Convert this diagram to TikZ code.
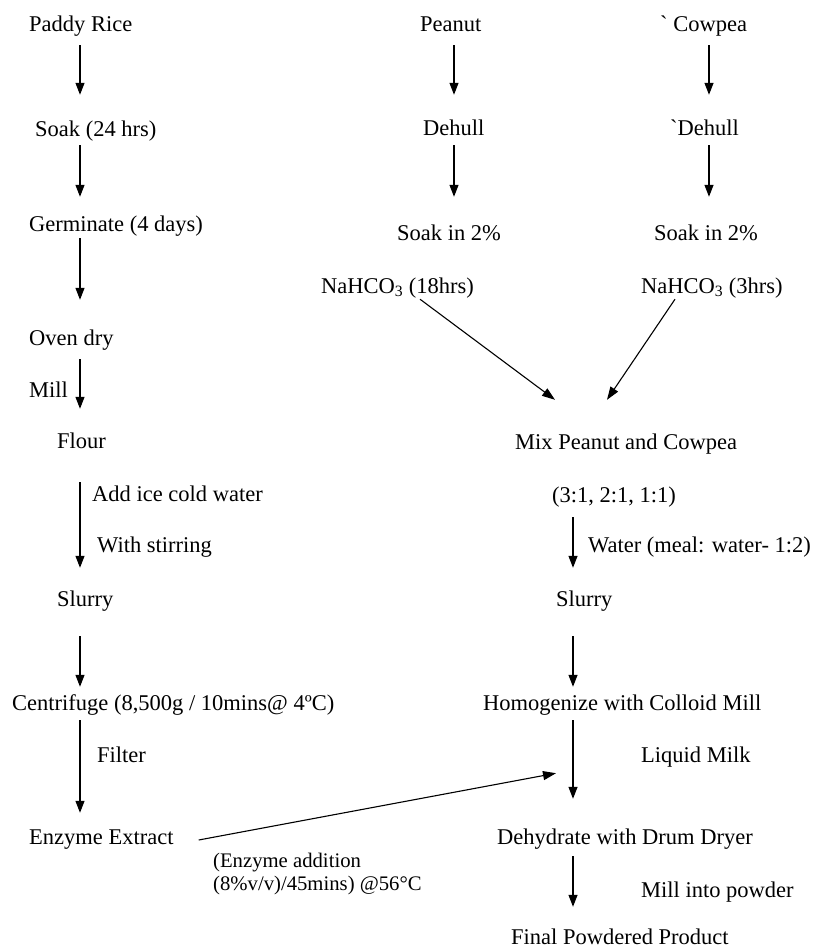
\documentclass[tikz,border=0pt]{standalone}
\usepackage{fontspec}
\setmainfont{Liberation Serif}
\usetikzlibrary{arrows.meta,calc}
\newcommand\mainsz{\fontsize{22.5}{27}\selectfont}
\newcommand\smallsz{\fontsize{20.7}{24}\selectfont}
\tikzset{
  txt/.style={inner sep=0pt, anchor=base west, text height=16pt, text depth=5pt, font=\mainsz},
  note/.style={inner sep=0pt, anchor=base west, font=\mainsz},
  smallnote/.style={inner sep=0pt, anchor=base west, font=\smallsz},
  arr/.style={line width=1.2pt, -{Triangle[length=12pt,width=9pt]}},
  darr/.style={line width=1.1pt, -{Triangle[length=13pt,width=9pt]}}
}
\begin{document}
\begin{tikzpicture}[x=1pt,y=-1pt]
\useasboundingbox (0,0) rectangle (814,949);
% axis coordinates for the vertical arrows
\coordinate (lx) at (80,0);
\coordinate (px) at (454,0);
\coordinate (cx) at (709,0);
\coordinate (rx) at (573,0);
% left column
\node[txt] (paddy) at (29,32) {Paddy Rice};
\node[txt] (soak) at (35,137) {Soak (24 hrs)};
\node[txt] (germ) at (29,232) {Germinate (4 days)};
\node[txt] (oven) at (29,345) {Oven dry};
\node[note] (mill) at (29,397) {Mill};
\node[txt] (flour) at (57,448) {Flour};
\node[note] (ice) at (92,501) {Add ice cold water};
\node[note] (stir) at (97,552) {With stirring};
\node[txt] (slurL) at (57,606) {Slurry};
\node[txt] (centr) at (12,710) {Centrifuge (8,500g / 10mins@ 4ºC)};
\node[note] (filter) at (97,762) {Filter};
\node[txt] (ee) at (29,844) {Enzyme Extract};
\node[smallnote] (ea1) at (213,867) {(Enzyme addition};
\node[smallnote] (ea2) at (213,890) {(8\%v/v)/45mins) @56°C};
% peanut column
\node[txt] (pea) at (420,32) {Peanut};
\node[txt] (dehP) at (423,136) {Dehull};
\node[txt] (soakP) at (397,241) {Soak in 2\%};
\node[txt] (na1) at (321,293) {NaHCO\textsubscript{3} (18hrs)};
% cowpea column
\node[txt] (cow) at (660,32) {\textasciigrave{} Cowpea};
\node[txt] (dehC) at (670,136) {\textasciigrave Dehull};
\node[txt] (soakC) at (654,241) {Soak in 2\%};
\node[txt] (na2) at (641,293) {NaHCO\textsubscript{3} (3hrs)};
% right column
\node[txt] (mix) at (515,449) {Mix Peanut and Cowpea};
\node[txt] (ratio) at (552,502) {(3:1, 2:1, 1:1)};
\node[note] (water) at (588,552) {Water (meal: water- 1:2)};
\node[txt] (slurR) at (556,606) {Slurry};
\node[txt] (homog) at (483,710) {Homogenize with Colloid Mill};
\node[note] (milk) at (641,762) {Liquid Milk};
\node[txt] (dehy) at (497,844) {Dehydrate with Drum Dryer};
\node[note] (powder) at (641,897) {Mill into powder};
\node[txt] (final) at (511,944) {Final Powdered Product};
% left column arrows
\draw[arr, shorten <=8pt, shorten >=26pt] (paddy.south -| lx) -- (soak.north -| lx);
\draw[arr, shorten <=3pt, shorten >=19pt] (soak.south -| lx) -- (germ.north -| lx);
\draw[arr, shorten <=1pt, shorten >=29pt] (germ.south -| lx) -- (oven.north -| lx);
\draw[arr, shorten <=9pt, shorten >=23pt] (oven.south -| lx) -- (flour.north -| lx);
\draw[arr, shorten <=29pt, shorten >=22pt] (flour.south -| lx) -- (slurL.north -| lx);
\draw[arr, shorten <=25pt, shorten >=7pt] (slurL.south -| lx) -- (centr.north -| lx);
\draw[arr, shorten <=5pt, shorten >=15pt] (centr.south -| lx) -- (ee.north -| lx);
% peanut and cowpea arrows
\draw[arr, shorten <=8pt, shorten >=25pt] (pea.south -| px) -- (dehP.north -| px);
\draw[arr, shorten <=4pt, shorten >=28pt] (dehP.south -| px) -- (soakP.north -| px);
\draw[arr, shorten <=8pt, shorten >=25pt] (cow.south -| cx) -- (dehC.north -| cx);
\draw[arr, shorten <=4pt, shorten >=28pt] (dehC.south -| cx) -- (soakC.north -| cx);
% diagonals into mix
\draw[darr] ($(na1.south west)+(99,1)$) -- ($(mix.north west)+(40,-33)$);
\draw[darr] ($(na2.south west)+(34,1)$) -- ($(mix.north west)+(92,-33)$);
% right column arrows
\draw[arr, shorten <=10pt, shorten >=22pt] (ratio.south -| rx) -- (slurR.north -| rx);
\draw[arr, shorten <=25pt, shorten >=7pt] (slurR.south -| rx) -- (homog.north -| rx);
\draw[arr, shorten <=5pt, shorten >=29pt] (homog.south -| rx) -- (dehy.north -| rx);
\draw[arr, shorten <=7pt, shorten >=21pt] (dehy.south -| rx) -- (final.north -| rx);
% enzyme addition
\draw[darr] ($(ee.east)+(25,1.5)$) -- ($(homog.south west)+(73,58)$);
\end{tikzpicture}
\end{document}
